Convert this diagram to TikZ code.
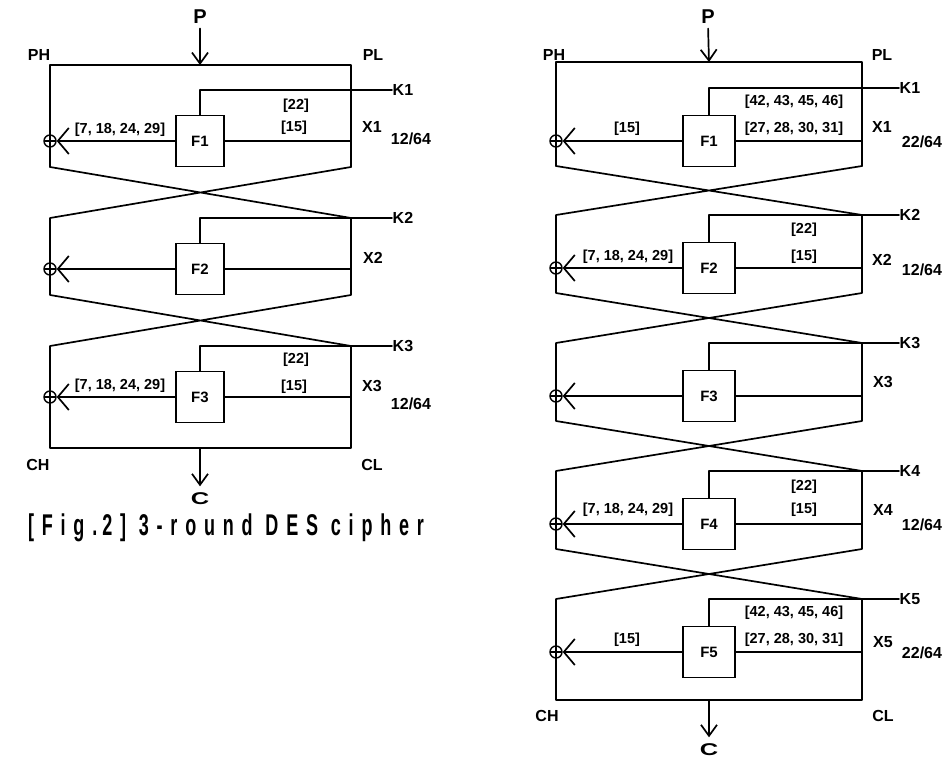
\documentclass[tikz,border=0pt]{standalone}
\usepackage{fontspec}
\setsansfont{Liberation Sans}
\newfontfamily\capfont[FakeStretch=0.6,LetterSpace=26]{Liberation Sans}
\usetikzlibrary{arrows.meta}
\tikzset{
  wire/.style={line width=1.7pt, line cap=round, line join=round},
  fblock/.style={draw, line width=1.7pt, minimum width=#1, minimum height=51pt, inner sep=0pt,
    font=\sffamily\bfseries\fontsize{15}{15}\selectfont},
  fblock/.default=50pt,
  lab/.style={font=\sffamily\bfseries\fontsize{16}{16}\selectfont, inner sep=0.5pt},
  biglab/.style={font=\sffamily\bfseries\fontsize{20}{20}\selectfont, inner sep=0.5pt},
  bits/.style={font=\sffamily\bfseries\fontsize{14.5}{15}\selectfont, inner sep=0.5pt},
  ratio/.style={font=\sffamily\bfseries\fontsize{16}{16}\selectfont, inner sep=0.5pt},
  xorgate/.style={draw, circle, line width=1.4pt, minimum size=12pt, inner sep=0pt,
    path picture={\draw[line width=1.4pt] (path picture bounding box.north) -- (path picture bounding box.south)
      (path picture bounding box.west) -- (path picture bounding box.east);}},
  intip/.style={-{Straight Barb[length=11pt,width=16pt]}},
  xortip/.style={-{Straight Barb[length=11pt,width=26pt]}},
}
\begin{document}
\begin{tikzpicture}[x=1pt,y=-1pt]
\useasboundingbox (0,0) rectangle (951,760);

% ================= left diagram (3 rounds) =================
\node[biglab] (aP) at (200,17) {P};
\coordinate (aPin) at (200,65);
\node[lab] (aPH) at (39,55) {PH};
\node[lab] (aPL) at (373,55) {PL};

\coordinate (aTL1) at (50,65);  \coordinate (aTR1) at (351,65);
\coordinate (aBL1) at (50,167); \coordinate (aBR1) at (351,167);
\coordinate (aTL2) at (50,218); \coordinate (aTR2) at (351,218);
\coordinate (aBL2) at (50,295); \coordinate (aBR2) at (351,295);
\coordinate (aTL3) at (50,346); \coordinate (aTR3) at (351,346);
\coordinate (aBL3) at (50,448); \coordinate (aBR3) at (351,448);

\draw[wire] (aBL1) -- (aTL1) -- (aTR1) -- (aBR1);
\draw[wire] (aBL1) -- (aTR2) -- (aBR2) -- (aTL3) -- (aBL3) -- (aBR3) -- (aTR3) -- (aBL2) -- (aTL2) -- (aBR1);
\draw[wire,intip,shorten <=4pt] (aP.south) -- (aPin);

\foreach \i/\k in {1/90,2/218,3/346}{
  \node[fblock=48pt] (aF\i) at (200,\k+51) {F\i};
  \node[lab,anchor=west] (aK\i) at (392,\k) {K\i};
  \draw[wire] (aF\i.north) |- (aK\i.west);
  \node[xorgate] (aX\i) at (50,\k+51) {};
  \coordinate (aM\i) at (351,\k+51);
  \draw[wire] (aM\i) -- (aF\i.east);
  \draw[wire,xortip] (aF\i.west) -- (aX\i.east);
}

\node[bits] (a1u) at (296,106) {[22]};
\node[bits] (a1d) at (294,128) {[15]};
\node[bits] (a1l) at (120,130) {[7, 18, 24, 29]};
\node[lab]  (a1x) at (372,127) {X1};
\node[ratio] (a1r) at (411,139) {12/64};

\node[lab]  (a2x) at (373,258) {X2};

\node[bits] (a3u) at (296,360) {[22]};
\node[bits] (a3d) at (294,387) {[15]};
\node[bits] (a3l) at (120,386) {[7, 18, 24, 29]};
\node[lab]  (a3x) at (372,386) {X3};
\node[ratio] (a3r) at (411,404) {12/64};

\node[lab] (aCH) at (38,465) {CH};
\node[lab] (aCL) at (372,465) {CL};
\coordinate (aOut) at (200,448);
\node[lab,font=\sffamily\bfseries\fontsize{17}{17}\selectfont] (aC) at (200,499) {\scalebox{1.5}[1]{C}};
\draw[wire,intip,shorten >=6pt] (aOut) -- (aC.north);

\node[inner sep=0pt] (cap) at (226,528) {\capfont\bfseries\fontsize{30}{30}\selectfont [Fig.\,2]\ 3-round DES cipher};

% ================= right diagram (5 rounds) =================
\node[biglab] (bP) at (708,17) {P};
\coordinate (bPin) at (709,62);
\node[lab] (bPH) at (554,55) {PH};
\node[lab] (bPL) at (882,55) {PL};

\coordinate (bTL1) at (556,62);  \coordinate (bTR1) at (862,62);
\coordinate (bBL1) at (556,166); \coordinate (bBR1) at (862,166);
\coordinate (bTL2) at (556,215); \coordinate (bTR2) at (862,215);
\coordinate (bBL2) at (556,293); \coordinate (bBR2) at (862,293);
\coordinate (bTL3) at (556,343); \coordinate (bTR3) at (862,343);
\coordinate (bBL3) at (556,421); \coordinate (bBR3) at (862,421);
\coordinate (bTL4) at (556,471); \coordinate (bTR4) at (862,471);
\coordinate (bBL4) at (556,549); \coordinate (bBR4) at (862,549);
\coordinate (bTL5) at (556,599); \coordinate (bTR5) at (862,599);
\coordinate (bBL5) at (556,700); \coordinate (bBR5) at (862,700);

\draw[wire] (bBL1) -- (bTL1) -- (bTR1) -- (bBR1);
\draw[wire] (bBL1) -- (bTR2) -- (bBR2) -- (bTL3) -- (bBL3) -- (bTR4) -- (bBR4) -- (bTL5) -- (bBL5)
  -- (bBR5) -- (bTR5) -- (bBL4) -- (bTL4) -- (bBR3) -- (bTR3) -- (bBL2) -- (bTL2) -- (bBR1);
\draw[wire,intip,shorten <=4pt] (bP.south) -- (bPin);

\foreach \i/\k in {1/88,2/215,3/343,4/471,5/599}{
  \node[fblock=52pt] (bF\i) at (709,\k+53) {F\i};
  \node[lab,anchor=west] (bK\i) at (899,\k) {K\i};
  \draw[wire] (bF\i.north) |- (bK\i.west);
  \node[xorgate] (bX\i) at (556,\k+53) {};
  \coordinate (bM\i) at (862,\k+53);
  \draw[wire] (bM\i) -- (bF\i.east);
  \draw[wire,xortip] (bF\i.west) -- (bX\i.east);
}

\node[bits] (b1u) at (794,102) {[42, 43, 45, 46]};
\node[bits] (b1d) at (794,129) {[27, 28, 30, 31]};
\node[bits] (b1l) at (627,129) {[15]};
\node[lab]  (b1x) at (882,127) {X1};
\node[ratio] (b1r) at (922,142) {22/64};

\node[bits] (b2u) at (804,230) {[22]};
\node[bits] (b2d) at (804,257) {[15]};
\node[bits] (b2l) at (628,257) {[7, 18, 24, 29]};
\node[lab]  (b2x) at (882,260) {X2};
\node[ratio] (b2r) at (922,270) {12/64};

\node[lab]  (b3x) at (883,382) {X3};

\node[bits] (b4u) at (804,487) {[22]};
\node[bits] (b4d) at (804,510) {[15]};
\node[bits] (b4l) at (628,510) {[7, 18, 24, 29]};
\node[lab]  (b4x) at (883,510) {X4};
\node[ratio] (b4r) at (922,525) {12/64};

\node[bits] (b5u) at (794,613) {[42, 43, 45, 46]};
\node[bits] (b5d) at (794,640) {[27, 28, 30, 31]};
\node[bits] (b5l) at (627,640) {[15]};
\node[lab]  (b5x) at (883,642) {X5};
\node[ratio] (b5r) at (922,653) {22/64};

\node[lab] (bCH) at (547,716) {CH};
\node[lab] (bCL) at (883,716) {CL};
\coordinate (bOut) at (709,700);
\node[lab,font=\sffamily\bfseries\fontsize{17}{17}\selectfont] (bC) at (709,750) {\scalebox{1.5}[1]{C}};
\draw[wire,intip,shorten >=6pt] (bOut) -- (bC.north);
\end{tikzpicture}
\end{document}
